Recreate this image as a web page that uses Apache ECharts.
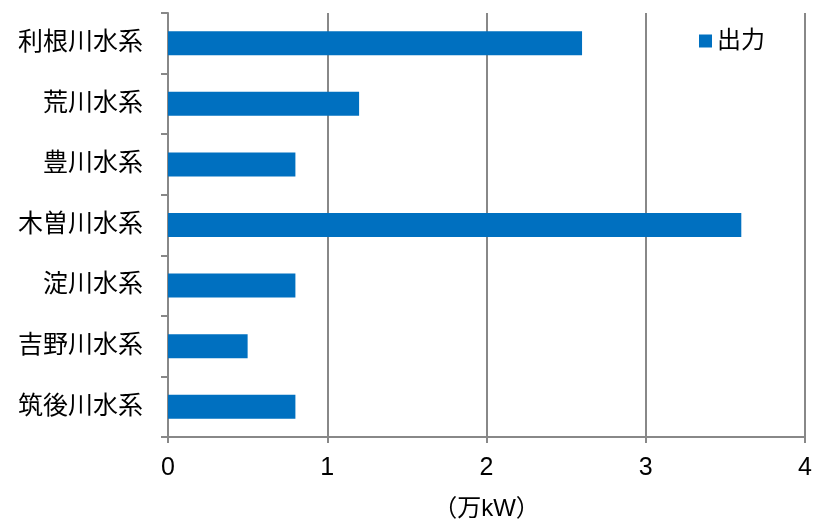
<!DOCTYPE html>
<html><head><meta charset="utf-8">
<script src="https://cdn.jsdelivr.net/npm/echarts@6/dist/echarts.min.js"></script>
<style>html,body{margin:0;padding:0;background:#fff}#c{width:813px;height:519px}</style>
</head><body><div id="c"></div>
<script>
const categories = ['利根川水系','荒川水系','豊川水系','木曽川水系','淀川水系','吉野川水系','筑後川水系'];
const output = [2.6, 1.2, 0.8, 3.6, 0.8, 0.5, 0.8];
const seriesName = '出力';
const xTitle = '（万kW）';
const font = 'Liberation Sans, "Noto Sans CJK JP", sans-serif';
const chart = echarts.init(document.getElementById('c'));
chart.setOption({
  animation: false,
  textStyle: {fontFamily: font},
  grid: {left: 168, right: 8, top: 13, bottom: 82, containLabel: false, outerBoundsMode: 'none'},
  legend: {
    data: [seriesName], right: 43, top: 24, itemWidth: 13, itemHeight: 13, itemGap: 6,
    icon: 'rect',
    textStyle: {fontSize: 24, color: '#000', fontFamily: font}
  },
  xAxis: {
    type: 'value', min: 0, max: 4, interval: 1,
    name: xTitle, nameLocation: 'middle', nameGap: 60,
    nameTextStyle: {fontSize: 24, color: '#000', fontFamily: font},
    axisLine: {show: true, lineStyle: {color: '#888', width: 2}},
    axisTick: {show: true, length: 6, lineStyle: {color: '#888', width: 2}},
    axisLabel: {fontSize: 25, color: '#000', margin: 19, fontFamily: font},
    splitLine: {show: true, lineStyle: {color: '#888', width: 2}}
  },
  yAxis: {
    type: 'category', data: categories, inverse: true,
    axisLine: {show: true, lineStyle: {color: '#888', width: 2}},
    axisTick: {show: true, length: 7, lineStyle: {color: '#888', width: 2}},
    axisLabel: {fontSize: 25, color: '#000', margin: 25, fontFamily: font},
    splitLine: {show: false}
  },
  series: [{
    name: seriesName, type: 'bar', data: output, barWidth: 24,
    itemStyle: {color: '#0070C0'}
  }]
});
</script></body></html>
